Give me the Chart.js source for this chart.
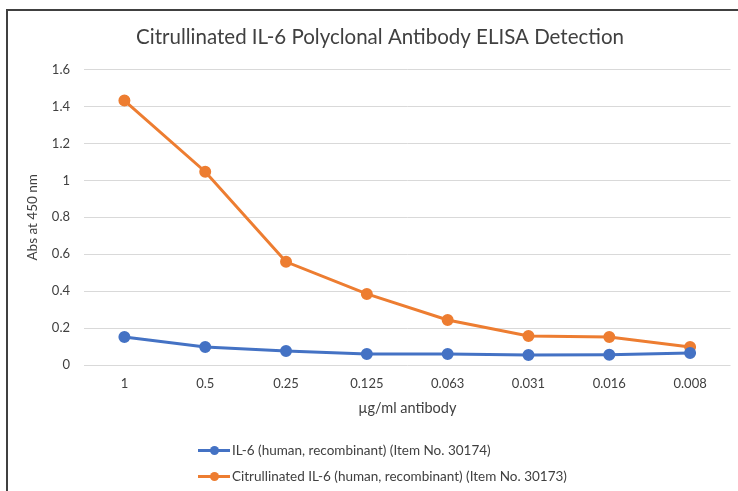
<!DOCTYPE html>
<html>
<head>
<meta charset="utf-8">
<script src="https://cdn.jsdelivr.net/npm/chart.js@4"></script>
<style>
  body { margin: 0; background: #fff; }
  #wrap { position: relative; width: 738px; height: 491px; overflow: hidden; }
  #legend { position: absolute; left: 198px; top: 437px; font: 13.5px Lato, sans-serif; color: #404040; }
  .item { display: flex; align-items: center; height: 26px; }
  .sym { position: relative; width: 32px; height: 12px; margin-right: 2px; }
  .sym .ln { position: absolute; left: 0; top: 4.5px; width: 32px; height: 3px; }
  .sym .dot { position: absolute; left: 11.5px; top: 1.5px; width: 9px; height: 9px; border-radius: 50%; }
</style>
</head>
<body>
<div id="wrap">
  <canvas id="myChart" width="738" height="491"></canvas>
  <div id="legend"></div>
</div>
<script>
const concentrations = ['1', '0.5', '0.25', '0.125', '0.063', '0.031', '0.016', '0.008'];
const il6 = [0.152, 0.098, 0.076, 0.06, 0.06, 0.054, 0.056, 0.065];
const citIl6 = [1.432, 1.047, 0.559, 0.385, 0.244, 0.157, 0.152, 0.098];
const seriesNames = ['IL-6 (human, recombinant) (Item No. 30174)', 'Citrullinated IL-6 (human, recombinant) (Item No. 30173)'];

const ctx = document.querySelector('#myChart');
const textColor = '#404040';
const font = 'Lato, sans-serif';

// frame line on left and top like the source image
const frame = {
  id: 'frame',
  afterDraw(chart) {
    const c = chart.ctx;
    c.save();
    c.strokeStyle = '#404040';
    c.lineWidth = 2;
    c.beginPath();
    c.moveTo(7, 491);
    c.lineTo(7, 10);
    c.lineTo(738, 10);
    c.stroke();
    c.restore();
  }
};

const chart = new Chart(ctx, {
  type: 'line',
  data: {
    labels: concentrations,
    datasets: [{
      label: seriesNames[0],
      data: il6,
      borderColor: '#4472C4',
      backgroundColor: '#4472C4',
      borderWidth: 3,
      pointRadius: 4.5,
      pointHoverRadius: 4.5,
      tension: 0
    }, {
      label: seriesNames[1],
      data: citIl6,
      borderColor: '#ED7D31',
      backgroundColor: '#ED7D31',
      borderWidth: 3,
      pointRadius: 4.5,
      pointHoverRadius: 4.5,
      tension: 0
    }]
  },
  options: {
    responsive: false,
    animation: false,
    layout: {
      padding: { left: 24, right: 2, top: 0, bottom: 71 }
    },
    plugins: {
      legend: { display: false },
      tooltip: { enabled: false },
      title: {
        display: true,
        text: 'Citrullinated IL-6 Polyclonal Antibody ELISA Detection',
        color: textColor,
        font: { family: font, size: 20.5, weight: 'normal' },
        padding: { top: 25, bottom: 20 }
      }
    },
    scales: {
      y: {
        min: 0,
        max: 1.6,
        ticks: {
          stepSize: 0.2,
          padding: 14,
          color: textColor,
          font: { family: font, size: 13 },
          callback: v => String(Math.round(v * 10) / 10)
        },
        grid: { color: '#d9d9d9', drawTicks: false },
        border: { display: false },
        title: {
          display: true,
          text: 'Abs at 450 nm',
          color: textColor,
          font: { family: font, size: 13.5 },
          padding: { top: 1, bottom: 0 }
        },
        afterFit(scale) { scale.width = 60; }
      },
      x: {
        offset: true,
        ticks: {
          padding: 11,
          color: textColor,
          font: { family: font, size: 13 }
        },
        grid: { display: false, drawTicks: false, offset: true },
        border: { display: false },
        title: {
          display: true,
          text: 'µg/ml antibody',
          color: textColor,
          font: { family: font, size: 14.5 },
          padding: { top: 0, bottom: 3 }
        },
        afterFit(scale) { scale.height = 55; }
      }
    }
  },
  plugins: [frame]
});

// legend listed vertically under the chart
const legendBox = document.getElementById('legend');
chart.data.datasets.forEach(ds => {
  const item = document.createElement('div');
  item.className = 'item';
  item.innerHTML = '<span class="sym"><span class="ln" style="background:' + ds.borderColor +
    '"></span><span class="dot" style="background:' + ds.borderColor + '"></span></span><span>' + ds.label + '</span>';
  legendBox.appendChild(item);
});
</script>
</body>
</html>
